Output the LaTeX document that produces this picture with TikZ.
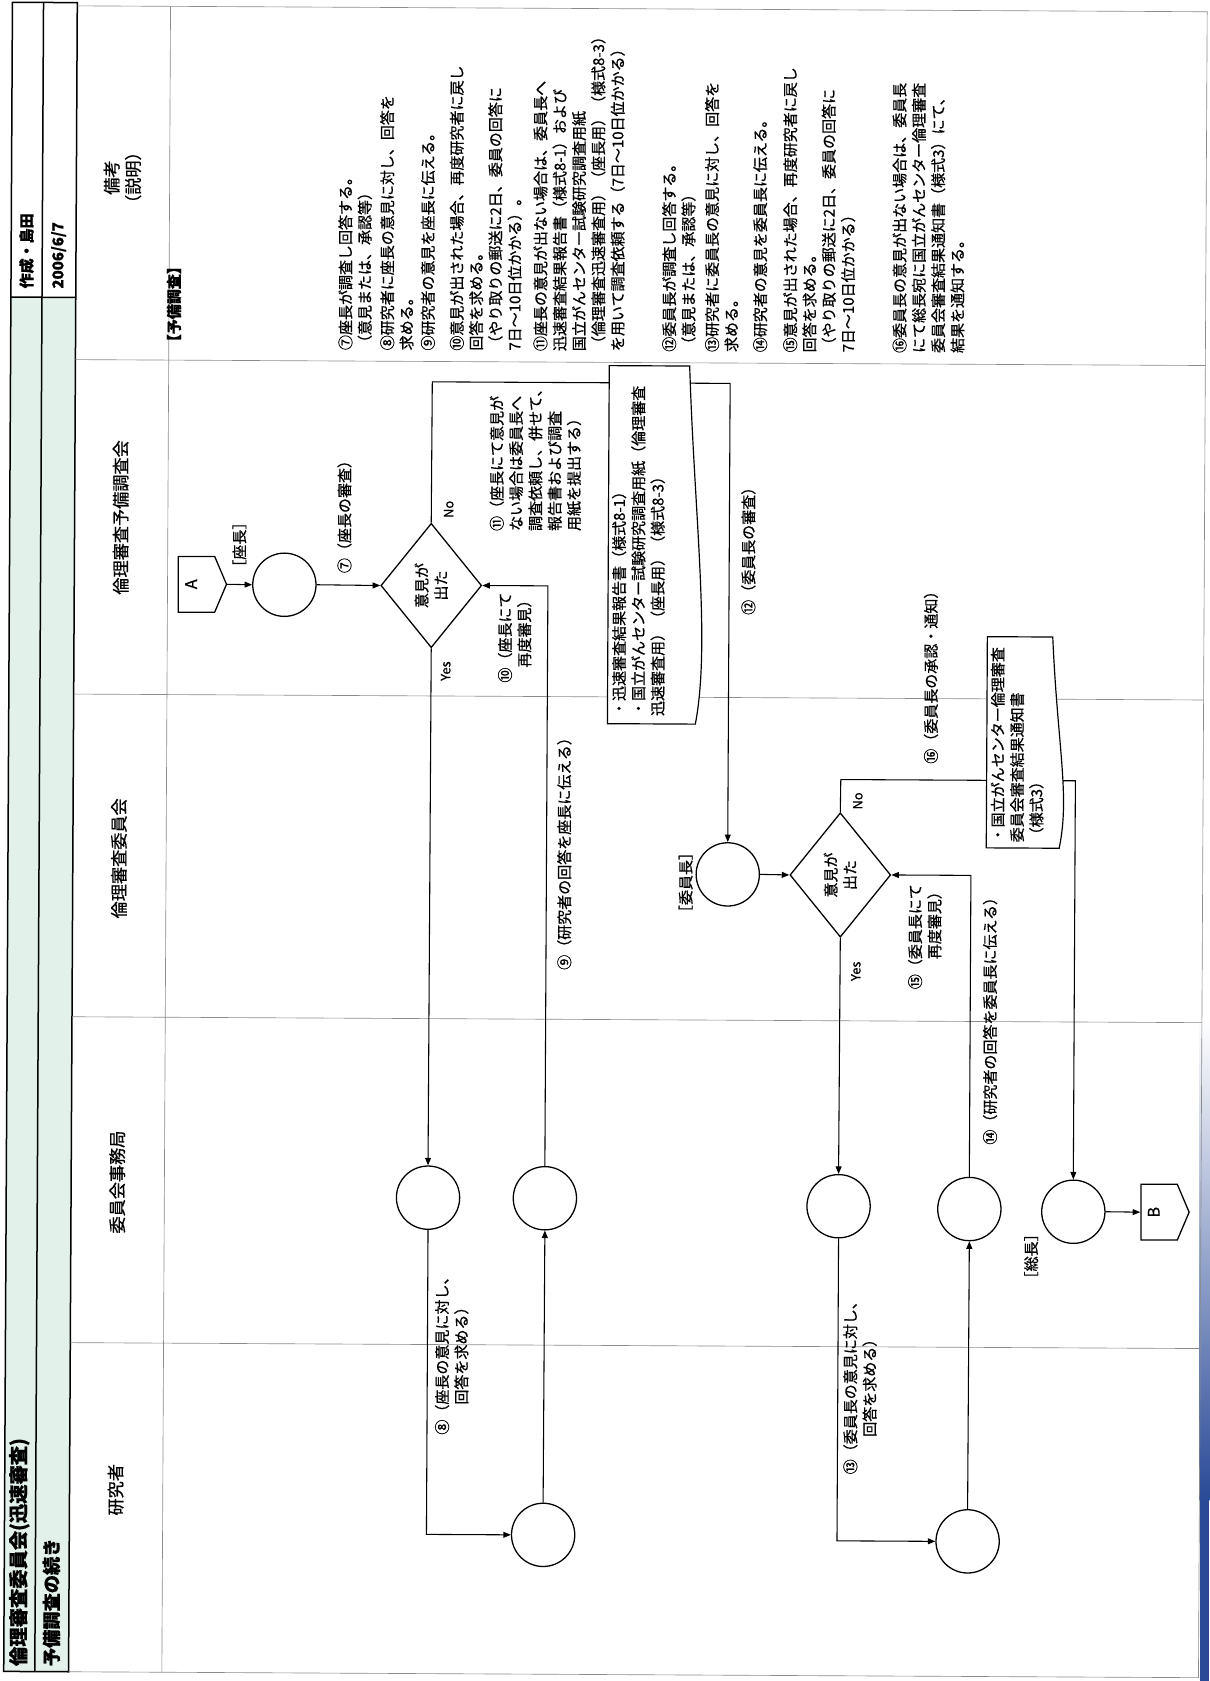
\documentclass[tikz,border=0pt]{standalone}
\usepackage{fontspec}
\setmainfont{Noto Sans CJK JP}[FakeBold=0.7]
\usetikzlibrary{arrows.meta,shapes.geometric,shapes.symbols}
\definecolor{mint}{HTML}{E2F1EA}
\definecolor{scanblue}{HTML}{2A4A97}
\tikzset{
  flow/.style={line width=1pt, draw=black},
  arr/.style={flow, -{Triangle[length=7pt,width=5.5pt]}},
  rnd/.style={circle, draw=black, line width=1.2pt, minimum size=59pt, inner sep=0pt, fill=white},
  dec/.style={diamond, draw=black, line width=1.2pt, minimum width=94pt, minimum height=116pt, inner sep=0pt, fill=white},
  offpage/.style={signal, signal to=east, signal pointer angle=134, draw=black, line width=1.2pt, minimum width=45pt, minimum height=52pt, inner sep=0pt, fill=white},
  txt/.style={rotate=90, inner sep=0pt, font=\fontsize{14}{18}\selectfont},
  blk/.style={txt, anchor=north west, align=left},
  blkr/.style={txt, anchor=north east, align=right},
  blkc/.style={txt, anchor=north, align=center},
  lab/.style={txt, anchor=west},
  gridline/.style={draw=black!45, line width=0.6pt},
  lanename/.style={txt, anchor=center, align=center, font=\fontsize{16}{20}\selectfont},
  notebox/.style={draw=black, line width=1.1pt, fill=white},
}
\begin{document}
\begin{tikzpicture}[x=1pt,y=-1pt]
\useasboundingbox (0,0) rectangle (1128,1568);
\fill[white] (0,0) rectangle (1128,1568);
\shade[top color=white, bottom color=scanblue] (1119,950) rectangle (1128,1400);
\fill[scanblue] (1119,1400) rectangle (1128,1568);

\begin{scope}[rotate around={-0.3:(564,784)}]
% ---------- header strip ----------
\fill[mint] (7.5,280) rectangle (68,1562);
\draw[line width=1.4pt] (7.5,5) rectangle (68,1562);
\draw[line width=1.4pt] (36.5,5) -- (36.5,1562);
\draw[line width=1.4pt] (7.5,280) -- (68,280);
\node[lab, font=\bfseries\fontsize{14}{17}\selectfont] (hmaker) at (22,272) {作成・島田};
\node[lab, font=\bfseries\fontsize{14}{17}\selectfont] (hdate) at (52,272) {2006/6/7};
\node[lab, font=\bfseries\fontsize{18}{21}\selectfont] (htitle) at (22,1557) {倫理審査委員会(迅速審査)};
\node[lab, font=\bfseries\fontsize{17}{20}\selectfont] (hsub) at (52,1557) {予備調査の続き};

% ---------- table grid ----------
\draw[gridline] (68,8) -- (1122,8) -- (1122,1562) -- (68,1562);
\draw[gridline] (155,8) -- (155,1562);
\foreach \yy in {338,650,951,1255} \draw[gridline] (68,\yy) -- (1122,\yy);

% lane names
\node[lanename] (lnote) at (111,168) {備考\\（説明）};
\node[lanename] (lpre) at (111,485) {倫理審査予備調査会};
\node[lanename] (lcom) at (111,803) {倫理審査委員会};
\node[lanename] (lsec) at (111,1105) {委員会事務局};
\node[lanename] (lres) at (111,1392) {研究者};

% ---------- remarks column ----------
\node[blk, font=\bfseries\fontsize{14}{18}\selectfont] (r0) at (153,328) {【予備調査】};
\node[blk] (r7) at (313,328) {⑦座長が調査し回答する。\\（意見または、承認等）};
\node[blk] (r8) at (352,328) {⑧研究者に座長の意見に対し、回答を\\求める。};
\node[blk] (r9) at (390,328) {⑨研究者の意見を座長に伝える。};
\node[blk] (r10) at (417,328) {⑩意見が出された場合、再度研究者に戻し\\回答を求める。\\（やり取りの郵送に2日、委員の回答に\\7日〜10日位かかる）。};
\node[blk] (r11) at (495,328) {⑪座長の意見が出ない場合は、委員長へ\\迅速審査結果報告書（様式8-1）および\\国立がんセンター試験研究調査用紙\\（倫理審査迅速審査用）（座長用）（様式8-3）\\を用いて調査依頼する（7日〜10日位かかる）};
\node[blk] (r12) at (615,328) {⑫委員長が調査し回答する。\\（意見または、承認等）};
\node[blk] (r13) at (655,328) {⑬研究者に委員長の意見に対し、回答を\\求める。};
\node[blk] (r14) at (700,328) {⑭研究者の意見を委員長に伝える。};
\node[blk] (r15) at (728,328) {⑮意見が出された場合、再度研究者に戻し\\回答を求める。\\（やり取りの郵送に2日、委員の回答に\\7日〜10日位かかる）};
\node[blk] (r16) at (830,328) {⑯委員長の意見が出ない場合は、委員長\\にて総長宛に国立がんセンター倫理審査\\委員会審査結果通知書（様式3）にて、\\結果を通知する。};

% ---------- flow nodes ----------
\node[offpage] (A) at (182,547) {};
\node[txt, font=\fontsize{15}{17}\selectfont] (Atext) at (177,547) {A};
\node[rnd] (c1) at (264,547) {};
\node[dec] (d1) at (401,547) {};
\node[txt, align=center] (d1t) at (401,547) {意見が\\出た};
\node[rnd] (ca) at (401,1118) {};
\node[rnd] (cb) at (510,1118) {};
\node[rnd] (cc) at (510,1432) {};
\node[rnd] (c2) at (679,815) {};
\node[dec] (d2) at (784,815) {};
\node[txt, align=center] (d2t) at (784,815) {意見が\\出た};
\node[rnd] (cd) at (784,1124) {};
\node[rnd] (ce) at (906,1126) {};
\node[rnd] (cf) at (1003,1128) {};
\node[rnd] (cg) at (906,1436) {};
\node[offpage] (B) at (1083,1128) {};
\node[txt, font=\fontsize{15}{17}\selectfont] (Btext) at (1078,1128) {B};

\coordinate (k1) at (401,357);
\coordinate (k2) at (784,726);

% ---------- connectors ----------
\draw[arr] (A.east) -- (c1.west);
\draw[arr] (c1.east) -- (d1.west);
\draw[arr] (d1.north) -- (k1) -| (c2.north);
\draw[arr] (d1.south) -- (ca.north);
\draw[arr] (ca.south) |- (cc.west);
\draw[arr] (cc.north) -- (cb.south);
\draw[arr] (cb.north) |- (d1.east);
\draw[arr] (c2.east) -- (d2.west);
\draw[arr] (d2.north) -- (k2) -| (cf.north);
\draw[arr] (d2.south) -- (cd.north);
\draw[arr] (cd.south) |- (cg.west);
\draw[arr] (cg.north) -- (ce.south);
\draw[arr] (ce.north) |- (d2.east);
\draw[arr] (cf.east) -- (B.west);

% ---------- document notes ----------
\draw[notebox] (566,341) -- (641,341) .. controls (646,480) and (662,600) .. (648,675) -- (566,675) -- cycle;
\node[blk] (n1) at (570,668) {・迅速審査結果報告書（様式8-1）\\・国立がんセンター試験研究調査用紙（倫理審査\\迅速審査用）（座長用）（様式8-3）};
\draw[notebox] (920,592) -- (981,592) .. controls (986,695) and (998,740) .. (988,789) -- (920,789) -- cycle;
\node[blk] (n2) at (924,784) {・国立がんセンター倫理審査\\委員会審査結果通知書\\（様式3）};

% ---------- connector labels ----------
\node[lab] (lz) at (222,538) {［座長］};
\node[lab] (l7) at (320,536) {⑦（座長の審査）};
\node[lab, font=\fontsize{12}{14}\selectfont] (no1) at (417,484) {No};
\node[lab, font=\fontsize{12}{14}\selectfont] (yes1) at (415,636) {Yes};
\node[blkr] (l10) at (463,553) {⑩（座長にて\\再度審見）};
\node[blk] (l11) at (455,496) {⑪（座長にて意見が\\ない場合は委員長へ\\調査依頼し、併せて、\\報告書および調査\\用紙を提出する）};
\node[lab] (l9) at (527,905) {⑨（研究者の回答を座長に伝える）};
\node[blkc] (l8) at (408,1262) {⑧（座長の意見に対し、\\回答を求める）};
\node[lab] (l12) at (697,573) {⑫（委員長の審査）};
\node[lab] (lchair) at (640,858) {［委員長］};
\node[lab] (l16) at (868,711) {⑯（委員長の承認・通知）};
\node[lab, font=\fontsize{12}{14}\selectfont] (no2) at (800,754) {No};
\node[lab, font=\fontsize{12}{14}\selectfont] (yes2) at (799,914) {Yes};
\node[blkr] (l15) at (847,823) {⑮（委員長にて\\再度審見）};
\node[lab] (l14) at (925,1066) {⑭（研究者の回答を委員長に伝える）};
\node[blkc] (l13) at (789,1290) {⑬（委員長の意見に対し、\\回答を求める）};
\node[lab] (lpres) at (964,1198) {［総長］};
\end{scope}
\end{tikzpicture}
\end{document}
